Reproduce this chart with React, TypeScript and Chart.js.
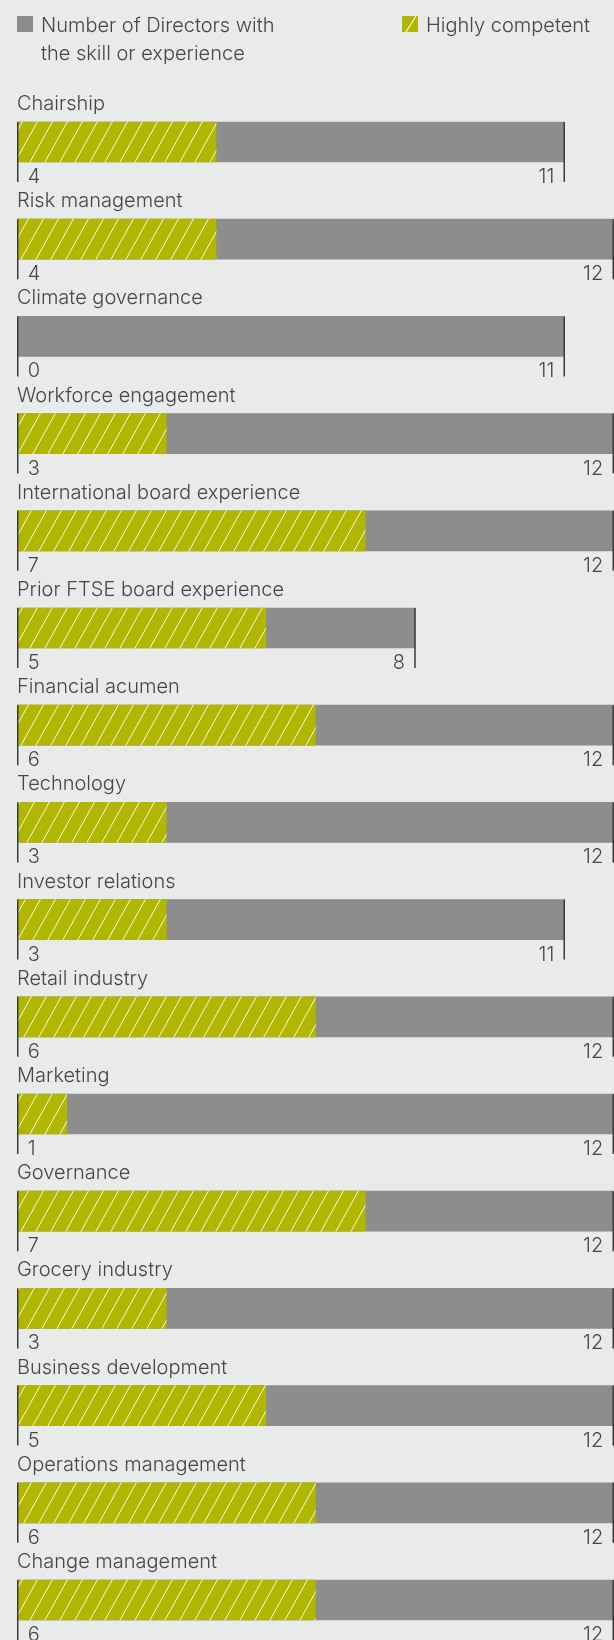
import { useEffect, useRef } from "react";
import { Chart, registerables } from "chart.js";

Chart.register(...registerables);

const categories = [
  "Chairship",
  "Risk management",
  "Climate governance",
  "Workforce engagement",
  "International board experience",
  "Prior FTSE board experience",
  "Financial acumen",
  "Technology",
  "Investor relations",
  "Retail industry",
  "Marketing",
  "Governance",
  "Grocery industry",
  "Business development",
  "Operations management",
  "Change management",
];
const totalDirectors = [11, 12, 11, 12, 12, 8, 12, 12, 11, 12, 12, 12, 12, 12, 12, 12];
const highlyCompetent = [4, 4, 0, 3, 7, 5, 6, 3, 3, 6, 1, 7, 3, 5, 6, 6];
const legendTotalLines = ["Number of Directors with", "the skill or experience"];
const legendCompetent = "Highly competent";
const axisMin = 0;
const axisMax = 12;

const BG = "#e9eaea";
const GRAY = "#8c8d8c";
const GREEN = "#b1b600";
const TEXT = "#464646";
const TICK = "#3a3a3a";
const FONT = "300 20px Inter, Roboto, sans-serif";

function makeHatch(ctx: CanvasRenderingContext2D) {
  const w = 15;
  const h = 27;
  const c = document.createElement("canvas");
  c.width = w;
  c.height = h;
  const g = c.getContext("2d")!;
  g.fillStyle = GREEN;
  g.fillRect(0, 0, w, h);
  g.strokeStyle = "rgba(255,255,255,0.9)";
  g.lineWidth = 1;
  const s = w / h;
  for (const k of [-1, 0, 1]) {
    g.beginPath();
    g.moveTo(w + k * w + s, -1);
    g.lineTo(k * w - s, h + 1);
    g.stroke();
  }
  return ctx.createPattern(c, "repeat")!;
}

const overlay = {
  id: "overlay",
  afterDatasetsDraw(chart: any) {
    const { ctx, chartArea, scales } = chart;
    const x = scales.x;
    const meta = chart.getDatasetMeta(1);
    ctx.save();
    ctx.font = FONT;
    ctx.fillStyle = TEXT;
    ctx.textBaseline = "alphabetic";
    categories.forEach((cat: string, i: number) => {
      const bar = meta.data[i];
      const { y: cy, height } = bar.getProps(["y", "height"], true);
      const top = cy - height / 2;
      const bottom = cy + height / 2;
      ctx.textAlign = "left";
      ctx.fillStyle = TEXT;
      ctx.fillText(cat, chartArea.left, top - 12);
      const x0 = x.getPixelForValue(axisMin) + 0.75;
      let x1 = x.getPixelForValue(totalDirectors[i]);
      x1 = Math.min(x1, chart.width - 0.75);
      ctx.strokeStyle = TICK;
      ctx.lineWidth = 1.5;
      ctx.beginPath();
      ctx.moveTo(x0, top);
      ctx.lineTo(x0, bottom + 20);
      ctx.moveTo(x1, top);
      ctx.lineTo(x1, bottom + 20);
      ctx.stroke();
      ctx.fillText(String(highlyCompetent[i]), x0 + 10, bottom + 21);
      ctx.textAlign = "right";
      ctx.fillText(String(totalDirectors[i]), x1 - 10, bottom + 21);
    });

    // legend
    ctx.fillStyle = GRAY;
    ctx.fillRect(17, 16, 16, 16);
    ctx.fillStyle = TEXT;
    ctx.textAlign = "left";
    ctx.fillText(legendTotalLines[0], 41, 31.5);
    ctx.fillText(legendTotalLines[1], 41, 59.5);

    ctx.fillStyle = GREEN;
    ctx.fillRect(402, 16, 16, 16);
    ctx.save();
    ctx.beginPath();
    ctx.rect(402, 16, 16, 16);
    ctx.clip();
    ctx.strokeStyle = "rgba(255,255,255,0.9)";
    ctx.lineWidth = 1.2;
    ctx.beginPath();
    ctx.moveTo(416, 16);
    ctx.lineTo(406, 32);
    ctx.stroke();
    ctx.restore();
    ctx.fillStyle = TEXT;
    ctx.fillText(legendCompetent, 426, 31.5);
    ctx.restore();
  },
};

export default function App() {
  const ref = useRef<HTMLCanvasElement>(null);
  useEffect(() => {
    const canvas = ref.current!;
    const ctx = canvas.getContext("2d")!;
    const hatch = makeHatch(ctx);
    const chart = new Chart(canvas, {
      type: "bar",
      data: {
        labels: categories,
        datasets: [
          {
            label: legendCompetent,
            data: highlyCompetent,
            backgroundColor: hatch as any,
            borderWidth: 0,
            grouped: false,
            barThickness: 40,
            order: 0,
          } as any,
          {
            label: legendTotalLines.join(" "),
            data: totalDirectors,
            backgroundColor: GRAY,
            borderWidth: 0,
            grouped: false,
            barThickness: 40,
            order: 1,
          } as any,
        ],
      },
      options: {
        indexAxis: "y",
        responsive: false,
        maintainAspectRatio: false,
        animation: false,
        events: [],
        layout: { padding: { left: 17, right: 0, top: 93.4, bottom: 11.4 } },
        scales: {
          x: { display: false, min: axisMin, max: axisMax },
          y: { display: false },
        },
        plugins: { legend: { display: false }, tooltip: { enabled: false } },
      },
      plugins: [overlay],
    });
    return () => chart.destroy();
  }, []);
  return (
    <div
      style={{
        position: "fixed",
        left: 0,
        top: 0,
        width: 614,
        height: 1640,
        overflow: "hidden",
        background: BG,
      }}
    >
      <canvas ref={ref} width={614} height={1660} style={{ display: "block" }} />
    </div>
  );
}
